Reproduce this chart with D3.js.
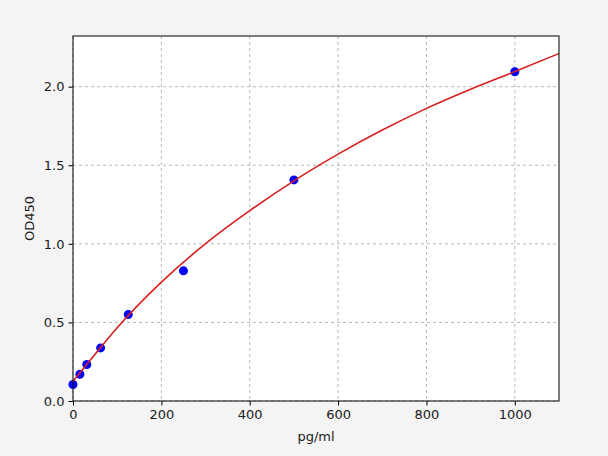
<!DOCTYPE html>
<html>
<head>
<meta charset="utf-8">
<script src="https://cdn.jsdelivr.net/npm/d3@7"></script>
<style>
  body { margin: 0; background: #f4f4f4; }
  text { font-family: "DejaVu Sans", sans-serif; }
</style>
</head>
<body>
<div id="chart"></div>
<script>
// standard points
const concentrations = [0, 15.6, 31.25, 62.5, 125, 250, 500, 1000];
const odValues = [0.105, 0.17, 0.232, 0.338, 0.55, 0.828, 1.407, 2.095];

// fitted curve
const curveX = [0, 50, 100, 200, 300, 400, 500, 600, 700, 800, 900, 1000, 1100];
const curveY = [0.126, 0.298, 0.466, 0.756, 1.001, 1.211, 1.401, 1.571, 1.724, 1.862, 1.984, 2.096, 2.211];

const xTicks = [0, 200, 400, 600, 800, 1000];
const yTicks = [0.0, 0.5, 1.0, 1.5, 2.0];

var margin = { top: 36, right: 49, bottom: 55, left: 73 },
    width = 608 - margin.left - margin.right,
    height = 456 - margin.top - margin.bottom;

var svg = d3.select("#chart").append("svg")
    .attr("width", 608)
    .attr("height", 456)
    .append("g")
    .attr("transform", `translate(${margin.left},${margin.top})`);

var x = d3.scaleLinear().domain([0, 1100]).range([0, width]);
var y = d3.scaleLinear().domain([0, 2.3225]).range([height, 0]);

svg.append("rect")
    .attr("width", width)
    .attr("height", height)
    .attr("fill", "#ffffff");

// grid
svg.append("g")
    .selectAll("line")
    .data(xTicks)
    .join("line")
    .attr("x1", d => x(d)).attr("x2", d => x(d))
    .attr("y1", 0).attr("y2", height)
    .attr("stroke", "#b0b0b0")
    .attr("stroke-width", 0.9)
    .attr("stroke-dasharray", "3,3");
svg.append("g")
    .selectAll("line")
    .data(yTicks)
    .join("line")
    .attr("x1", 0).attr("x2", width)
    .attr("y1", d => y(d)).attr("y2", d => y(d))
    .attr("stroke", "#b0b0b0")
    .attr("stroke-width", 0.9)
    .attr("stroke-dasharray", "3,3");

// axes
var xAxis = svg.append("g")
    .attr("transform", `translate(0,${height})`)
    .call(d3.axisBottom(x).tickValues(xTicks).tickSize(4.5).tickPadding(4).tickFormat(d3.format("d")));
var yAxis = svg.append("g")
    .call(d3.axisLeft(y).tickValues(yTicks).tickSize(4.5).tickPadding(4).tickFormat(d3.format(".1f")));
[xAxis, yAxis].forEach(a => {
    a.select(".domain").remove();
    a.selectAll("text").attr("font-size", 13).attr("fill", "#1a1a1a")
        .attr("font-family", "DejaVu Sans, sans-serif");
    a.selectAll("line").attr("stroke", "#000");
});

// points
svg.append("g")
    .selectAll("circle")
    .data(concentrations)
    .join("circle")
    .attr("cx", d => x(d))
    .attr("cy", (d, i) => y(odValues[i]))
    .attr("r", 4.5)
    .attr("fill", "#0000ff");

// fitted line
var valueLine = d3.line()
    .x(d => x(d))
    .y((d, i) => y(curveY[i]))
    .curve(d3.curveMonotoneX);
svg.append("path")
    .datum(curveX)
    .attr("fill", "none")
    .attr("stroke", "#d62020")
    .attr("stroke-width", 1.6)
    .attr("d", valueLine);

// frame
svg.append("rect")
    .attr("width", width)
    .attr("height", height)
    .attr("fill", "none")
    .attr("stroke", "#000")
    .attr("stroke-width", 1);

// labels
svg.append("text")
    .attr("x", width / 2)
    .attr("y", height + 40)
    .attr("text-anchor", "middle")
    .attr("font-size", 13)
    .attr("fill", "#1a1a1a")
    .text("pg/ml");
svg.append("text")
    .attr("transform", `translate(${-39},${height / 2}) rotate(-90)`)
    .attr("text-anchor", "middle")
    .attr("font-size", 13)
    .attr("fill", "#1a1a1a")
    .text("OD450");
</script>
</body>
</html>
